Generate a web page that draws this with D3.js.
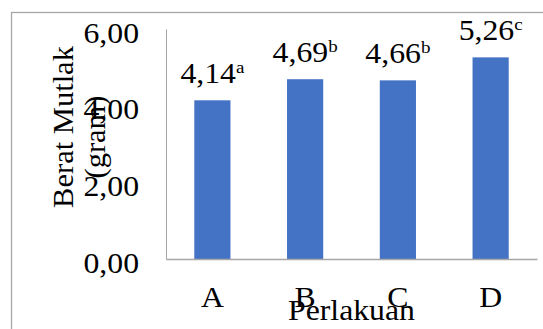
<!DOCTYPE html>
<html>
<head>
<meta charset="utf-8">
<script src="https://cdn.jsdelivr.net/npm/d3@7"></script>
<style>
  html, body { margin: 0; padding: 0; background: #fff; }
  svg { display: block; }
</style>
</head>
<body>
<svg id="chart" width="543" height="329"></svg>
<script>
// Data
const categories = ["A", "B", "C", "D"];
const values = [4.14, 4.69, 4.66, 5.26];
const valueLabels = ["4,14", "4,69", "4,66", "5,26"];
const letters = ["a", "b", "b", "c"];
const yTicks = [0, 2, 4, 6];
const yTickLabels = ["0,00", "2,00", "4,00", "6,00"];
const yTitleLines = ["Berat Mutlak", "(gram)"];
const xTitle = "Perlakuan";

// Text is set at a base size and enlarged with a transform (slightly wide, like the office chart)
const FONT = '"Liberation Serif", "Times New Roman", serif';
const BASE = 25, SX = 1.27, SY = 1.18;

const svg = d3.select("#chart");
const W = 543, H = 329;

function serif(sel, size = BASE) {
  return sel.style("font-family", FONT).style("font-size", size + "px").attr("fill", "#000");
}
const place = (px, py) => `translate(${px},${py}) scale(${SX},${SY})`;

// Chart frame
svg.append("rect")
  .attr("x", 11.5).attr("y", 12.5)
  .attr("width", W + 10).attr("height", H + 10)
  .attr("fill", "none").attr("stroke", "#a6a6a6").attr("stroke-width", 1.3);

const plot = { left: 166, right: 537, top: 29, bottom: 259 };

const x = d3.scaleBand()
  .domain(categories)
  .range([plot.left, plot.right])
  .paddingInner(0.61)
  .paddingOuter(0.305);

const y = d3.scaleLinear()
  .domain([0, 6])
  .range([plot.bottom, plot.top]);

// Bars
svg.append("g").selectAll("rect")
  .data(values)
  .join("rect")
  .attr("x", (d, i) => x(categories[i]))
  .attr("y", d => y(d))
  .attr("width", x.bandwidth())
  .attr("height", d => y(0) - y(d))
  .attr("fill", "#4472c4");

// Value labels with superscript significance letters
const lbl = svg.append("g").selectAll("text")
  .data(values)
  .join("text")
  .attr("transform", (d, i) => place(x(categories[i]) + x.bandwidth() / 2, y(d) - 17))
  .attr("text-anchor", "middle")
  .call(serif);
lbl.append("tspan").text((d, i) => valueLabels[i]);
lbl.append("tspan")
  .attr("dy", -9)
  .style("font-size", "15px")
  .text((d, i) => letters[i]);

// Y axis
const yAxis = svg.append("g")
  .attr("transform", `translate(${plot.left},0)`)
  .call(d3.axisLeft(y).tickValues(yTicks)
    .tickFormat((d, i) => yTickLabels[i])
    .tickSize(0));
yAxis.select(".domain").attr("stroke", "#a6a6a6").attr("stroke-width", 1);
yAxis.selectAll(".tick text")
  .call(serif)
  .attr("x", 0).attr("dy", null)
  .attr("transform", place(-27, 13));

// X axis
const xAxis = svg.append("g")
  .attr("transform", `translate(0,${plot.bottom})`)
  .call(d3.axisBottom(x).tickSize(0));
xAxis.select(".domain").attr("stroke", "#a6a6a6").attr("stroke-width", 1.6);
xAxis.selectAll(".tick text")
  .call(serif)
  .attr("y", 0).attr("dy", null)
  .attr("transform", place(0, 47.5));

// Axis titles
svg.append("text")
  .attr("transform", place((plot.left + plot.right) / 2, 320))
  .attr("text-anchor", "middle")
  .call(serif)
  .text(xTitle);

const yTitleX = [73, 105];
const yTitleY = [127, 137];
svg.append("g").selectAll("text")
  .data(yTitleLines)
  .join("text")
  .attr("transform", (d, i) => `translate(${yTitleX[i]},${yTitleY[i]}) rotate(-90) scale(1.22,1.2)`)
  .attr("text-anchor", "middle")
  .call(serif)
  .text(d => d);
</script>
</body>
</html>
